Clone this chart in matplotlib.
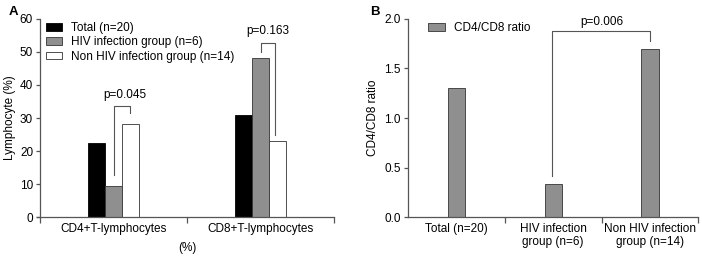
import matplotlib
matplotlib.use("Agg")
import matplotlib.pyplot as plt
import numpy as np

plt.rcParams['font.family'] = ['Liberation Sans', 'DejaVu Sans']
plt.rcParams['font.size'] = 8.5

# Panel A data
cats_a = ["CD4+T-lymphocytes", "CD8+T-lymphocytes"]
series_names = ["Total (n=20)", "HIV infection group (n=6)", "Non HIV infection group (n=14)"]
total_a = [22.5, 30.8]
hiv_a = [9.5, 48.3]
nonhiv_a = [28.2, 23.1]
yticks_a = [0, 10, 20, 30, 40, 50, 60]

# Panel B data
cats_b = ["Total (n=20)", "HIV infection\ngroup (n=6)", "Non HIV infection\ngroup (n=14)"]
ratio_b = [1.30, 0.33, 1.70]
yticks_b = [0.0, 0.5, 1.0, 1.5, 2.0]

# p-values
p_a = ["p=0.045", "p=0.163"]
p_b = "p=0.006"

gray = "#8f8f8f"
axc = "#555555"
fs = 8.5

fig = plt.figure(figsize=(7.02, 2.56), dpi=100)
axA = fig.add_axes([0.057, 0.152, 0.419, 0.774])
axB = fig.add_axes([0.581, 0.152, 0.414, 0.774])

def style(ax):
    for s in ["top", "right"]:
        ax.spines[s].set_visible(False)
    for s in ["left", "bottom"]:
        ax.spines[s].set_color(axc)
        ax.spines[s].set_linewidth(0.9)
    ax.tick_params(axis='y', direction='out', length=3, color=axc, width=0.9, pad=2, labelsize=fs)
    ax.tick_params(axis='x', which='major', length=0, pad=4, labelsize=fs)
    ax.tick_params(axis='x', which='minor', direction='out', length=4, color=axc, width=0.9)

leg_kw = dict(frameon=False, handlelength=1.4, handleheight=0.65, handletextpad=0.75,
              labelspacing=0.2, borderaxespad=0.0, borderpad=0.0, fontsize=fs, loc="upper left")

# Panel A
x = np.arange(len(cats_a))
w = 0.116
ax = axA
ax.bar(x - w, total_a, w, color="black", edgecolor="black", linewidth=0.6, label=series_names[0])
ax.bar(x, hiv_a, w, color=gray, edgecolor="#333333", linewidth=0.6, label=series_names[1])
ax.bar(x + w, nonhiv_a, w, color="white", edgecolor="#333333", linewidth=0.6, label=series_names[2])
ax.set_xlim(-0.5, 1.5)
ax.set_ylim(0, 60)
ax.set_yticks(yticks_a)
ax.set_xticks(x)
ax.set_xticklabels(cats_a)
ax.set_xticks([-0.5, 0.5, 1.5], minor=True)
ax.set_ylabel("Lymphocyte (%)", labelpad=3, fontsize=fs)
ax.set_xlabel("(%)", labelpad=5, fontsize=fs)
style(ax)
ax.spines['bottom'].set_bounds(-0.52, 1.5)
ax.legend(bbox_to_anchor=(0.02, 0.985), **leg_kw)

# brackets panel A
bl = "#555555"
ax.plot([0, 0, 0.11, 0.11], [12.7, 33.6, 33.6, 31.5], color=bl, lw=0.8)
ax.text(0.075, 35.3, p_a[0], ha="center", va="bottom", fontsize=fs)
ax.plot([1, 1, 1.1, 1.1], [50.0, 52.8, 52.8, 25.0], color=bl, lw=0.8)
ax.text(1.05, 54.5, p_a[1], ha="center", va="bottom", fontsize=fs)

# Panel B
ax = axB
xb = np.arange(len(cats_b))
ax.bar(xb, ratio_b, 0.178, color=gray, edgecolor="#333333", linewidth=0.6, label="CD4/CD8 ratio")
ax.set_xlim(-0.5, 2.5)
ax.set_ylim(0, 2.0)
ax.set_yticks(yticks_b)
ax.set_yticklabels([f"{v:.1f}" for v in yticks_b])
ax.set_xticks(xb)
ax.set_xticklabels(cats_b, linespacing=1.2)
ax.set_xticks([0.5, 1.5, 2.5], minor=True)
ax.set_ylabel("CD4/CD8 ratio", labelpad=4, fontsize=fs)
style(ax)
ax.legend(bbox_to_anchor=(0.07, 0.985), **leg_kw)
ax.plot([0.99, 0.99, 2.0, 2.0], [0.41, 1.88, 1.88, 1.78], color=bl, lw=0.8)
ax.text(1.5, 1.91, p_b, ha="center", va="bottom", fontsize=fs)

fig.text(0.012, 0.955, "A", fontsize=9.5, fontweight="bold", va="center")
fig.text(0.527, 0.955, "B", fontsize=9.5, fontweight="bold", va="center")

fig.savefig("out.png", dpi=100)
